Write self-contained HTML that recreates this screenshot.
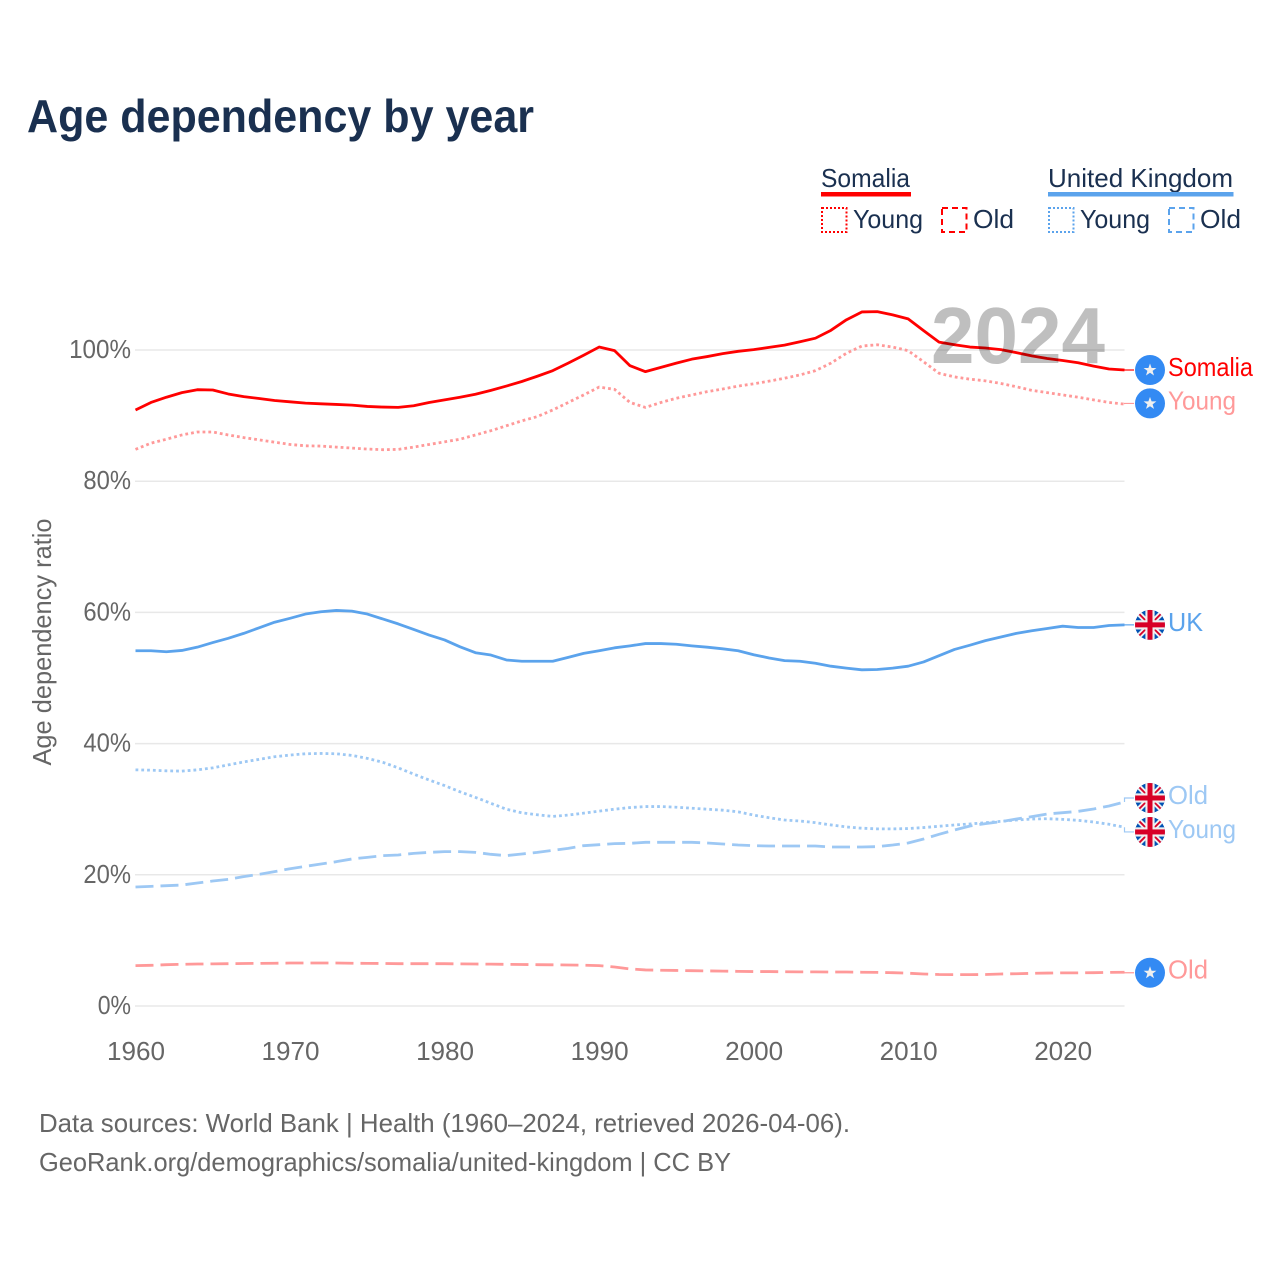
<!DOCTYPE html>
<html lang="en">
<head>
<meta charset="utf-8">
<title>Age dependency by year</title>
<style>
html,body{margin:0;padding:0;background:#fff;width:1280px;height:1280px;overflow:hidden}
svg{display:block}
text{font-family:"Liberation Sans",sans-serif}
</style>
</head>
<body>
<svg id="chart" xmlns="http://www.w3.org/2000/svg" width="1280" height="1280" viewBox="0 0 1280 1280">
  <defs>
    <clipPath id="flag-clip"><circle cx="0" cy="0" r="15"/></clipPath>
    <g id="uk-flag" clip-path="url(#flag-clip)">
      <rect x="-15" y="-15" width="30" height="30" fill="#0052b4"/>
      <path d="M-15-15 15 15M15-15-15 15" stroke="#f0f0f0" stroke-width="5.5" fill="none"/>
      <path d="M-15-15 15 15M15-15-15 15" stroke="#d80027" stroke-width="1.8" fill="none"/>
      <rect x="-15" y="-4.6" width="30" height="9.2" fill="#f0f0f0"/>
      <rect x="-4.6" y="-15" width="9.2" height="30" fill="#f0f0f0"/>
      <rect x="-15" y="-2.5" width="30" height="5" fill="#d80027"/>
      <rect x="-2.5" y="-15" width="5" height="30" fill="#d80027"/>
    </g>
    <g id="so-flag">
      <circle cx="0" cy="0" r="15" fill="#338af3"/>
      <polygon points="0,-6.5 1.6,-2 6.4,-2 2.6,0.9 4,5.5 0,2.8 -4,5.5 -2.6,0.9 -6.4,-2 -1.6,-2" fill="#f0f0f0"/>
    </g>
  </defs>

  <text x="27" y="132" font-size="46" font-weight="700" fill="#1a3050" textLength="507" lengthAdjust="spacingAndGlyphs">Age dependency by year</text>

  <g>
    <g>
      <text x="821" y="187" font-size="26" fill="#1a3050" textLength="89" lengthAdjust="spacingAndGlyphs">Somalia</text>
      <rect x="821" y="192" width="90" height="4.5" fill="#ff0000"/>
      <rect x="822" y="208" width="24.5" height="24" fill="none" stroke="#ff0000" stroke-width="2" stroke-dasharray="2 2"/>
      <text x="853" y="228" font-size="26" fill="#1a3050" textLength="70" lengthAdjust="spacingAndGlyphs">Young</text>
      <rect x="942" y="208" width="24.5" height="24" fill="none" stroke="#ff0000" stroke-width="2" stroke-dasharray="6 4"/>
      <text x="973" y="228" font-size="26" fill="#1a3050" textLength="41" lengthAdjust="spacingAndGlyphs">Old</text>
    </g>
    <g>
      <text x="1048" y="187" font-size="26" fill="#1a3050" textLength="185" lengthAdjust="spacingAndGlyphs">United Kingdom</text>
      <rect x="1048" y="192" width="185.5" height="4.5" fill="#5ba3ec"/>
      <rect x="1049" y="208" width="24.5" height="24" fill="none" stroke="#5ba3ec" stroke-width="2" stroke-dasharray="2 2"/>
      <text x="1080" y="228" font-size="26" fill="#1a3050" textLength="70" lengthAdjust="spacingAndGlyphs">Young</text>
      <rect x="1169" y="208" width="24.5" height="24" fill="none" stroke="#5ba3ec" stroke-width="2" stroke-dasharray="6 4"/>
      <text x="1200" y="228" font-size="26" fill="#1a3050" textLength="41" lengthAdjust="spacingAndGlyphs">Old</text>
    </g>
  </g>

  <g id="grid"></g>
  <g id="y-ticks"></g>
  <g id="x-ticks"></g>
  <text transform="translate(51 642) rotate(-90)" text-anchor="middle" font-size="26" fill="#666666" textLength="247" lengthAdjust="spacingAndGlyphs">Age dependency ratio</text>

  <g id="lines"></g>
  <text x="931" y="363" font-size="80" font-weight="700" fill="#000000" fill-opacity="0.25" textLength="174" lengthAdjust="spacingAndGlyphs">2024</text>
  <g id="ends"></g>

  <g>
    <text x="39" y="1132" font-size="26" fill="#666666" textLength="811" lengthAdjust="spacingAndGlyphs">Data sources: World Bank | Health (1960–2024, retrieved 2026-04-06).</text>
    <text x="39" y="1171" font-size="26" fill="#666666" textLength="692" lengthAdjust="spacingAndGlyphs">GeoRank.org/demographics/somalia/united-kingdom | CC BY</text>
  </g>
</svg>

<script>
var startYear = 1960;
var yTickValues = [0, 20, 40, 60, 80, 100];
var xTickYears = [1960, 1970, 1980, 1990, 2000, 2010, 2020];

var somaliaTotal = [90.85,92.0,92.8,93.5,93.95,93.9,93.3,92.9,92.6,92.3,
  92.1,91.9,91.8,91.7,91.6,91.4,91.3,91.25,91.5,92,
  92.4,92.8,93.25,93.85,94.5,95.2,96,96.85,98,99.2,
  100.45,99.9,97.6,96.7,97.35,98,98.6,99,99.45,99.8,
  100.05,100.4,100.75,101.25,101.8,103,104.6,105.8,105.85,105.35,
  104.75,102.95,101.2,100.8,100.45,100.3,100.05,99.6,99.1,98.7,
  98.4,98.05,97.55,97.1,96.95];
var somaliaYoung = [84.85,85.8,86.4,87.05,87.5,87.5,87.05,86.65,86.3,85.95,
  85.6,85.4,85.35,85.2,85.05,84.9,84.8,84.85,85.2,85.6,
  86,86.4,87.05,87.7,88.45,89.2,89.85,90.85,92,93.15,
  94.35,94,92,91.25,92,92.65,93.15,93.65,94.05,94.5,
  94.85,95.25,95.7,96.2,96.85,98,99.5,100.6,100.8,100.45,
  99.9,98.2,96.45,95.9,95.55,95.3,94.9,94.4,93.85,93.5,
  93.15,92.8,92.4,92,91.75];
var somaliaOld = [6.15,6.2,6.3,6.35,6.4,6.42,6.45,6.48,6.5,6.52,
  6.55,6.55,6.55,6.55,6.52,6.5,6.48,6.45,6.45,6.45,
  6.45,6.42,6.4,6.38,6.35,6.33,6.3,6.28,6.25,6.22,
  6.15,5.95,5.65,5.5,5.45,5.42,5.38,5.35,5.32,5.28,
  5.25,5.25,5.22,5.2,5.2,5.18,5.18,5.15,5.12,5.08,
  5.0,4.88,4.8,4.78,4.78,4.8,4.88,4.92,4.98,5.02,
  5.05,5.05,5.08,5.12,5.15];
var ukTotal = [54.15,54.15,54,54.2,54.7,55.4,56.05,56.8,57.65,58.5,
  59.1,59.75,60.1,60.3,60.2,59.75,59,58.25,57.4,56.55,
  55.8,54.75,53.85,53.5,52.75,52.55,52.55,52.55,53.15,53.75,
  54.15,54.6,54.9,55.25,55.25,55.15,54.9,54.7,54.45,54.15,
  53.55,53.05,52.65,52.55,52.25,51.8,51.5,51.25,51.3,51.5,
  51.8,52.45,53.4,54.35,55,55.7,56.25,56.8,57.2,57.55,
  57.9,57.7,57.7,58,58.1];
var ukYoung = [36,35.95,35.85,35.8,36,36.3,36.75,37.2,37.6,38,
  38.25,38.45,38.5,38.45,38.2,37.75,37.15,36.3,35.35,34.45,
  33.6,32.65,31.8,30.9,30,29.45,29.15,28.9,29.1,29.4,
  29.7,30,30.25,30.4,30.4,30.3,30.15,30,29.85,29.6,
  29.1,28.7,28.35,28.2,27.95,27.6,27.3,27.1,27,27,
  27.05,27.2,27.4,27.6,27.75,27.95,28.15,28.35,28.5,28.55,
  28.45,28.3,28.05,27.7,27.25];
var ukOld = [18.14,18.24,18.34,18.44,18.75,19.05,19.31,19.72,20.07,20.48,
  20.93,21.29,21.65,22,22.41,22.66,22.92,23.02,23.27,23.42,
  23.53,23.53,23.42,23.12,22.92,23.17,23.42,23.73,24.03,24.44,
  24.59,24.75,24.8,24.95,24.95,24.95,24.95,24.85,24.7,24.54,
  24.44,24.39,24.39,24.39,24.39,24.24,24.24,24.24,24.29,24.54,
  24.85,25.46,26.17,26.83,27.44,27.8,28.1,28.5,28.86,29.27,
  29.47,29.67,30.03,30.49,31.1];

var NS = 'http://www.w3.org/2000/svg';
function xScale(year) { return 135.5 + (year - 1960) * (1124.5 - 135.5) / 64; }
function yScale(v) { return 1006 - v * 6.56; }
function make(tag, attrs, parent) {
  var el = document.createElementNS(NS, tag);
  for (var k in attrs) el.setAttribute(k, attrs[k]);
  parent.appendChild(el);
  return el;
}

var gridGroup = document.getElementById('grid');
var yTickGroup = document.getElementById('y-ticks');
yTickValues.forEach(function (v) {
  var line = make('line', {x1: 135, x2: 1124.5, y1: yScale(v), y2: yScale(v), stroke: '#e8e8e8', 'stroke-width': 1.5}, gridGroup);
  
  
  var label = make('text', {x: 131, y: yScale(v) + 8, 'text-anchor': 'end', 'font-size': 26, fill: '#666666', textLength: String(v).length * 14.3 + 19, lengthAdjust: 'spacingAndGlyphs'}, yTickGroup);
  label.textContent = v + '%';
  
  
});

var xTickGroup = document.getElementById('x-ticks');
xTickYears.forEach(function (year) {
  var label = make('text', {x: xScale(year) + 0.5, y: 1060, 'text-anchor': 'middle', 'font-size': 26, fill: '#666666', textLength: 58, lengthAdjust: 'spacingAndGlyphs'}, xTickGroup);
  label.textContent = year;
  
  
});

var seriesList = [
  {key: 'somalia-total', values: somaliaTotal, color: '#ff0000', width: 2.8, dash: '', label: 'Somalia', labelW: 85, flag: '#so-flag', shift: 0},
  {key: 'somalia-young', values: somaliaYoung, color: '#ff9999', width: 2.8, dash: '2.8 3', label: 'Young', labelW: 68, flag: '#so-flag', shift: -0.7},
  {key: 'somalia-old', values: somaliaOld, color: '#ff9999', width: 2.8, dash: '18 7', label: 'Old', labelW: 40, flag: '#so-flag', shift: 0.5},
  {key: 'uk-total', values: ukTotal, color: '#5ba3ec', width: 2.8, dash: '', label: 'UK', labelW: 35, flag: '#uk-flag', shift: 0},
  {key: 'uk-young', values: ukYoung, color: '#9dc8f4', width: 2.8, dash: '2.8 3', label: 'Young', labelW: 68, flag: '#uk-flag', shift: 4.7},
  {key: 'uk-old', values: ukOld, color: '#9dc8f4', width: 2.8, dash: '18 7', label: 'Old', labelW: 40, flag: '#uk-flag', shift: -4}
];

var lineGroup = document.getElementById('lines');
var endGroup = document.getElementById('ends');
seriesList.forEach(function (s) {
  var pts = s.values.map(function (v, i) {
    return xScale(startYear + i).toFixed(2) + ',' + yScale(v).toFixed(2);
  });
  var path = make('polyline', {points: pts.join(' '), fill: 'none', stroke: s.color, 'stroke-width': s.width, 'stroke-linejoin': 'round'}, lineGroup);
  if (s.dash) path.setAttribute('stroke-dasharray', s.dash);
  
  

  var lastX = xScale(startYear + s.values.length - 1);
  var lastY = yScale(s.values[s.values.length - 1]);
  var flagY = lastY + s.shift;
  var leaderPts = lastX + ',' + lastY + ' ' + lastX + ',' + flagY + ' 1134,' + flagY;
  var leader = make('polyline', {points: leaderPts, fill: 'none', stroke: s.color, 'stroke-width': 1.2}, endGroup);
  
  

  var flag = make('use', {href: s.flag, transform: 'translate(1150 ' + flagY + ')'}, endGroup);
  
  

  var label = make('text', {x: 1168, y: flagY + 6, 'font-size': 26, fill: s.color, textLength: s.labelW, lengthAdjust: 'spacingAndGlyphs'}, endGroup);
  label.textContent = s.label;
  
  
});
</script>
</body>
</html>
